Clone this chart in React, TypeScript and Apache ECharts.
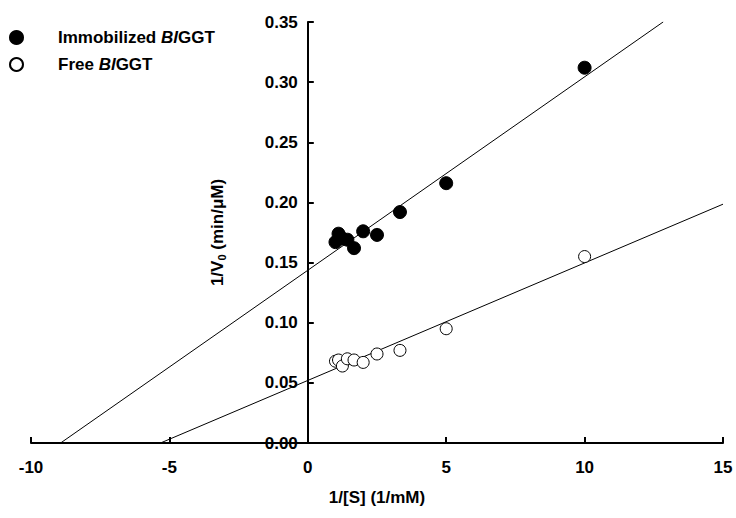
import React, { useEffect, useRef } from "react";
import * as echarts from "echarts";

const xValues = [1, 1.11, 1.25, 1.43, 1.67, 2, 2.5, 3.33, 5, 10];
const immobilizedValues = [0.167, 0.174, 0.17, 0.169, 0.162, 0.176, 0.173, 0.192, 0.216, 0.312];
const freeValues = [0.068, 0.069, 0.064, 0.07, 0.069, 0.067, 0.074, 0.077, 0.095, 0.155];

// Linear fits, drawn between x-range ends
const immobilizedFit = { slope: 0.01608, intercept: 0.1436, xStart: -8.93, xEnd: 12.84 };
const freeFit = { slope: 0.00977, intercept: 0.052, xStart: -5.32, xEnd: 15 };

const seriesNames = ["Immobilized BlGGT", "Free BlGGT"];

const FONT = "Liberation Sans, Arial, sans-serif";

const W = 736;
const H = 518;
const GRID = { left: 31, right: 13, top: 22, bottom: 75 };
const X_MIN = -10;
const X_MAX = 15;

function fitLine(f: { slope: number; intercept: number; xStart: number; xEnd: number }) {
  return [
    [f.xStart, f.slope * f.xStart + f.intercept],
    [f.xEnd, f.slope * f.xEnd + f.intercept],
  ];
}

export default function App() {
  const ref = useRef<HTMLDivElement>(null);
  useEffect(() => {
    if (!ref.current) return;
    const chart = echarts.init(ref.current, null, { renderer: "svg" });
    const plotW = W - GRID.left - GRID.right;
    // y axis sits at x = 0: shift it from the grid's left edge
    const yAxisShift = ((0 - X_MIN) / (X_MAX - X_MIN)) * plotW;
    chart.setOption({
      animation: false,
      backgroundColor: "#fff",
      textStyle: { fontFamily: FONT },
      grid: { ...GRID, containLabel: false, outerBoundsMode: "none" },
      legend: {
        orient: "vertical",
        left: 4,
        top: 24,
        itemWidth: 13,
        itemHeight: 13,
        itemGap: 10,
        icon: "circle",
        data: seriesNames,
        formatter: (name: string) => name.replace("Bl", "{i|Bl}"),
        textStyle: {
          fontFamily: FONT,
          fontSize: 17,
          fontWeight: "bold",
          color: "#000",
          padding: [0, 0, 0, 30],
          rich: {
            i: { fontFamily: FONT, fontSize: 17, fontWeight: "bold", fontStyle: "italic", color: "#000" },
          },
        },
      },
      xAxis: {
        type: "value",
        min: X_MIN,
        max: X_MAX,
        interval: 5,
        name: "1/[S] (1/mM)",
        nameLocation: "middle",
        nameGap: 46,
        nameTextStyle: { fontFamily: FONT, fontSize: 17, fontWeight: "bold", color: "#000" },
        axisLine: { onZero: false, lineStyle: { color: "#000", width: 2 } },
        axisTick: { show: true, inside: true, length: 6, lineStyle: { color: "#000", width: 2 } },
        axisLabel: { color: "#000", fontSize: 17, fontWeight: "bold", margin: 16, fontFamily: FONT },
        splitLine: { show: false },
      },
      yAxis: {
        type: "value",
        min: 0,
        max: 0.35,
        interval: 0.05,
        offset: -yAxisShift,
        name: "1/V{sub|0} (min/μM)",
        nameLocation: "middle",
        nameRotate: 90,
        nameGap: 80,
        nameTextStyle: {
          fontFamily: FONT,
          fontSize: 17,
          fontWeight: "bold",
          color: "#000",
          rich: {
            sub: { fontFamily: FONT, fontSize: 11, fontWeight: "bold", color: "#000", verticalAlign: "bottom", padding: [9, 0, 0, 0] },
          },
        },
        axisLine: { onZero: false, lineStyle: { color: "#000", width: 2 } },
        axisTick: { show: true, inside: true, length: 6, lineStyle: { color: "#000", width: 2 } },
        axisLabel: {
          color: "#000",
          fontSize: 17,
          fontWeight: "bold",
          margin: 10,
          fontFamily: FONT,
          formatter: (v: number) => v.toFixed(2),
        },
        splitLine: { show: false },
      },
      series: [
        {
          name: "fit-immobilized",
          type: "line",
          data: fitLine(immobilizedFit),
          symbol: "none",
          lineStyle: { color: "#000", width: 1 },
          silent: true,
          z: 1,
        },
        {
          name: "fit-free",
          type: "line",
          data: fitLine(freeFit),
          symbol: "none",
          lineStyle: { color: "#000", width: 1 },
          silent: true,
          z: 1,
        },
        {
          name: seriesNames[0],
          type: "scatter",
          data: xValues.map((x, i) => [x, immobilizedValues[i]]),
          symbol: "circle",
          symbolSize: 13,
          itemStyle: { color: "#000", borderColor: "#000", borderWidth: 1, opacity: 1 },
          z: 3,
        },
        {
          name: seriesNames[1],
          type: "scatter",
          data: xValues.map((x, i) => [x, freeValues[i]]),
          symbol: "circle",
          symbolSize: 12,
          itemStyle: { color: "#fff", borderColor: "#000", borderWidth: 1, opacity: 1 },
          z: 3,
        },
      ],
    });
    return () => chart.dispose();
  }, []);
  return <div ref={ref} style={{ position: "absolute", left: 0, top: 0, width: W, height: H }} />;
}
